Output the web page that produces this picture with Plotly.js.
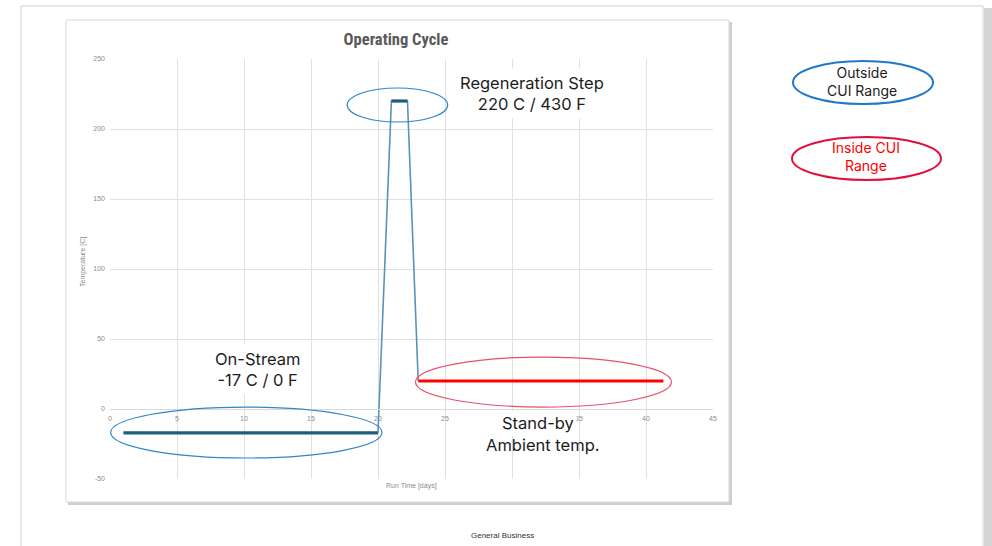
<!DOCTYPE html>
<html>
<head>
<meta charset="utf-8">
<script src="https://cdn.plot.ly/plotly-3.0.1.min.js"></script>
<style>html,body{margin:0;padding:0;background:#fff;}#chart{width:992px;height:546px;}</style>
</head>
<body>
<div id="chart"></div>
<script>
// ---- data ----
const onStreamX = [1, 20];
const onStreamY = [-17, -17];
const transitionX = [20, 21, 22.2, 23];
const transitionY = [-17, 220, 220, 20];
const regenX = [21, 22.2];
const regenY = [220, 220];
const standbyX = [23, 41.3];
const standbyY = [20, 20];
const xTicks = [0, 5, 10, 15, 20, 25, 30, 35, 40, 45];
const yTicks = [-50, 0, 50, 100, 150, 200, 250];

const W = 992, H = 546, L = 110, R = 713, T = 59, B = 479;
const px = v => (v - L) / (R - L);
const py = v => (B - v) / (B - T);

const darkBlue = '#1f5d7d';
const thinBlue = '#5a93b8';
const ellBlue = '#2f86c8';
const ellRed = '#e8506a';

const traces = [
  {x: transitionX, y: transitionY, mode: 'lines', line: {color: thinBlue, width: 1.6}, hoverinfo: 'skip'},
  {x: onStreamX, y: onStreamY, mode: 'lines', line: {color: darkBlue, width: 3.2}, hoverinfo: 'skip'},
  {x: regenX, y: regenY, mode: 'lines', line: {color: darkBlue, width: 3.2}, hoverinfo: 'skip'},
  {x: standbyX, y: standbyY, mode: 'lines', line: {color: '#ff0000', width: 3.2}, hoverinfo: 'skip'}
];

const shapes = [
  // outer page frame
  {type: 'rect', xref: 'paper', yref: 'paper', x0: px(984), x1: px(992), y0: py(560), y1: py(8), fillcolor: '#d4d4d4', line: {width: 0}, layer: 'below'},
  {type: 'rect', xref: 'paper', yref: 'paper', x0: px(21), x1: px(983), y0: py(560), y1: py(6), fillcolor: '#ffffff', line: {color: '#d0d0d0', width: 1}, layer: 'below'},
  // chart box shadow + frame
  {type: 'rect', xref: 'paper', yref: 'paper', x0: px(68), x1: px(732), y0: py(505), y1: py(22), fillcolor: '#cfcfcf', line: {width: 0}, layer: 'below'},
  {type: 'rect', xref: 'paper', yref: 'paper', x0: px(66), x1: px(729), y0: py(502), y1: py(20), fillcolor: '#ffffff', line: {color: '#d9d9d9', width: 1}, layer: 'below'},
  // ellipses in data coordinates
  {type: 'circle', xref: 'x', yref: 'y', x0: 0.05, x1: 20.3, y0: -35, y1: 1.4, line: {color: ellBlue, width: 1.2}},
  {type: 'circle', xref: 'x', yref: 'y', x0: 17.7, x1: 25.2, y0: 205, y1: 229.3, line: {color: ellBlue, width: 1.2}},
  {type: 'circle', xref: 'x', yref: 'y', x0: 22.8, x1: 41.9, y0: 1.4, y1: 37.1, line: {color: ellRed, width: 1.2}},
  // legend ellipses
  {type: 'circle', xref: 'paper', yref: 'paper', x0: px(793), x1: px(933), y0: py(104), y1: py(61), line: {color: '#1f78c8', width: 2}},
  {type: 'circle', xref: 'paper', yref: 'paper', x0: px(792), x1: px(941), y0: py(180), y1: py(137), line: {color: '#e0103a', width: 2}}
];

const txtFont = {family: 'Inter, "Open Sans", sans-serif', size: 16.5, color: '#1c1c1c'};
const legFont = {family: 'Inter, "Open Sans", sans-serif', size: 14, color: '#1c1c1c'};
const axFont = {family: '"Liberation Sans Narrow", "Liberation Sans", sans-serif', size: 7, color: '#8c8c8c'};
function ann(x, y, text, font, extra) {
  return Object.assign({xref: 'paper', yref: 'paper', x: px(x), y: py(y), xanchor: 'center', yanchor: 'middle',
    text: text, showarrow: false, font: font, align: 'center'}, extra || {});
}
const boxed = {bgcolor: '#ffffff', borderpad: 4};
const annotations = [
  ann(532, 93, 'Regeneration Step<br>220 C / 430 F', txtFont, boxed),
  ann(257, 369, 'On-Stream<br>-17 C / 0 F', txtFont, boxed),
  ann(538, 423, 'Stand-by', txtFont, {bgcolor: '#ffffff', borderpad: 2}),
  ann(543, 445, 'Ambient temp.', txtFont),
  ann(862, 81, 'Outside<br>CUI Range', legFont),
  ann(866, 156, 'Inside CUI<br>Range', Object.assign({}, legFont, {color: '#ff0000'})),
  ann(411, 486, 'Run Time [days]', axFont),
  ann(83, 262, 'Temperature [C]', axFont, {textangle: -90}),
  ann(502, 535, 'General Business', {family: '"Liberation Sans", sans-serif', size: 8, color: '#333333'})
];

const tickFont = {family: '"Liberation Sans", sans-serif', size: 7, color: '#8c8c8c'};

const layout = {
  width: W, height: H,
  margin: {l: L, r: W - R, t: T, b: H - B, pad: 0},
  paper_bgcolor: '#ffffff',
  plot_bgcolor: 'rgba(0,0,0,0)',
  showlegend: false,
  title: {
    text: '<b>Operating Cycle</b>',
    xref: 'container', yref: 'container',
    x: 396 / W, y: 1 - 39 / H, xanchor: 'center', yanchor: 'middle',
    font: {family: '"Liberation Sans Narrow", "Roboto Condensed", "Liberation Sans", sans-serif', size: 16.5, color: '#595959'}
  },
  xaxis: {
    range: [0, 45], tickvals: xTicks, ticktext: xTicks.map(String),
    showgrid: true, gridcolor: '#e0e0e0', gridwidth: 1,
    zeroline: false, showline: true, linecolor: '#d9d9d9', linewidth: 1,
    anchor: 'free', position: py(409),
    ticks: '', tickfont: tickFont, ticklabelstandoff: 3,
    fixedrange: true
  },
  yaxis: {
    range: [-50, 250], tickvals: yTicks, ticktext: yTicks.map(String),
    showgrid: true, gridcolor: '#e0e0e0', gridwidth: 1,
    zeroline: false, showline: false,
    ticks: '', tickfont: tickFont, ticklabelstandoff: 4,
    fixedrange: true
  },
  shapes: shapes,
  annotations: annotations
};

Plotly.newPlot('chart', traces, layout, {displayModeBar: false, staticPlot: true});
</script>
</body>
</html>
